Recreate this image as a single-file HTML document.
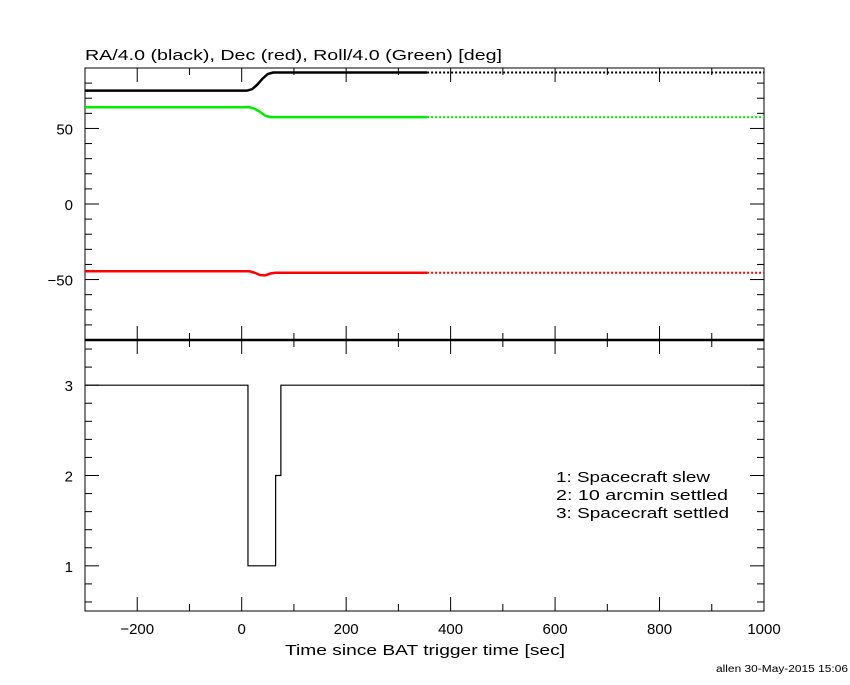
<!DOCTYPE html>
<html><head><meta charset="utf-8"><style>
body{margin:0;background:#fff;width:850px;height:680px;overflow:hidden}
svg text{font-family:"Liberation Sans",sans-serif;fill:#000}
</style></head><body>
<svg id="c" width="850" height="680" xmlns="http://www.w3.org/2000/svg"></svg>
<script>
const raT=[-300,10,20,30,40,50,60,70,355];
const raV=[75,75,76,79,83,86,87,87,87];
const decT=[-300,15,25,35,45,55,65,355];
const decV=[-44.5,-44.5,-45.5,-47,-47.2,-46,-45.5,-45.5];
const rollT=[-300,15,25,35,45,55,355];
const rollV=[64,64,63,61,58.5,57.5,57.5];
const dottedEnd=1000;
const stT=[-300,12,12,65,65,75,75,1000];
const stV=[3,3,1,1,2,2,3,3];
const xTicks=[-200,0,200,400,600,800,1000];
const yTopTicks=[-50,0,50];
const yBotTicks=[1,2,3];
const legend=["1: Spacecraft slew","2: 10 arcmin settled","3: Spacecraft settled"];
const legendW=[154,172,173];

const L=85,R=764,T1=68,B1=340,B2=611;
const X=t=>L+(t+300)/1300*(R-L);
const Y1=v=>204-v*136/90;
const Y2=v=>B1+(3.5-v)*(B2-B1)/3;
const svg=document.getElementById('c');const NS="http://www.w3.org/2000/svg";
function el(tag,a,name){const e=document.createElementNS(NS,tag);for(const k in a)e.setAttribute(k,a[k]);


svg.appendChild(e);return e;}
function txt(x,y,s,anchor,size,name,w){const a={x:x,y:y,'text-anchor':anchor,'font-size':size};
 if(w){a.textLength=w;a.lengthAdjust='spacingAndGlyphs';}
 const e=el('text',a,name);e.textContent=s;return e;}
el('rect',{x:L,y:T1,width:R-L,height:B1-T1,fill:'none',stroke:'#000','stroke-width':1},'top-panel-frame');
el('rect',{x:L,y:B1,width:R-L,height:B2-B1,fill:'none',stroke:'#000','stroke-width':1},'bottom-panel-frame');
el('line',{x1:L,x2:R,y1:B1,y2:B1,stroke:'#000','stroke-width':2.5},'panel-separator');
for(let t=-300;t<=1000;t+=100){const maj=t%200===0;const h=maj?14:7;const x=X(t);
  el('line',{x1:x,x2:x,y1:B2,y2:B2-h,stroke:'#000'},'x-tick');
  el('line',{x1:x,x2:x,y1:B1,y2:B1-h,stroke:'#000'},'x-tick');
  el('line',{x1:x,x2:x,y1:B1,y2:B1+h,stroke:'#000'},'x-tick');
  el('line',{x1:x,x2:x,y1:T1,y2:T1+h,stroke:'#000'},'x-tick');}
xTicks.forEach(t=>txt(X(t),634,(t<0?'\u2212':'')+Math.abs(t),'middle',15,'x-tick-label'));
txt(285,655,'Time since BAT trigger time [sec]','start',15,'x-axis-title',280);
for(let v=-90;v<=90;v+=10){const maj=v%50===0;const h=maj?14:7;const y=Y1(v);
 el('line',{x1:L,x2:L+h,y1:y,y2:y,stroke:'#000'},'y-tick');
 el('line',{x1:R,x2:R-h,y1:y,y2:y,stroke:'#000'},'y-tick');}
yTopTicks.forEach(v=>txt(73,Y1(v)+6,(v<0?'\u2212':'')+Math.abs(v),'end',15,'y-tick-label'));
txt(85,60,'RA/4.0 (black), Dec (red), Roll/4.0 (Green) [deg]','start',15,'top-panel-title',417);
for(let i=3;i<=17;i++){const v=i*0.2;const maj=Math.abs(v-Math.round(v))<1e-6;const h=maj?14:7;const y=Y2(v);
 el('line',{x1:L,x2:L+h,y1:y,y2:y,stroke:'#000'},'y-tick');
 el('line',{x1:R,x2:R-h,y1:y,y2:y,stroke:'#000'},'y-tick');}
yBotTicks.forEach(v=>txt(73,Y2(v)+6,String(v),'end',15,'y-tick-label'));
function series(T,V,color,name){
 el('polyline',{points:T.map((t,i)=>X(t)+','+Y1(V[i])).join(' '),fill:'none',stroke:color,'stroke-width':2.5},name);
 const last=V[V.length-1];
 el('line',{x1:X(T[T.length-1]),x2:X(dottedEnd),y1:Y1(last),y2:Y1(last),stroke:color,'stroke-width':2,'stroke-dasharray':'2 2'},name+'-dotted');}
series(raT,raV,'#000','ra-line');
series(rollT,rollV,'#00ee00','roll-line');
series(decT,decV,'#ff0000','dec-line');
el('polyline',{points:stT.map((t,i)=>X(t)+','+Y2(stV[i])).join(' '),fill:'none',stroke:'#000','stroke-width':1.2},'status-line');
legend.forEach((s,i)=>txt(556,482+i*18,s,'start',15,'legend-entry',legendW[i]));
txt(716,672,'allen 30-May-2015 15:06','start',10,'footer-credit',132);
</script>
</body></html>
